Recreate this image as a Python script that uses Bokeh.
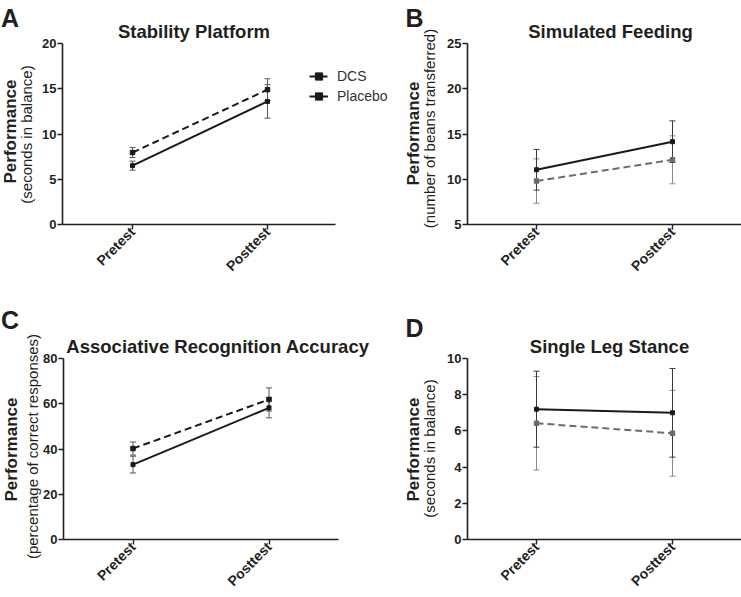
import math
from bokeh.plotting import figure
from bokeh.layouts import column, row
from bokeh.models import (Range1d, FixedTicker, Label, Whisker, TeeHead, LinearAxis,
                          ColumnDataSource, Legend, LegendItem)
from bokeh.embed import file_html
from bokeh.resources import INLINE

# ---------------- data ----------------
time_labels = ["Pretest", "Posttest"]
time_pos = [0, 1]

stab_dcs = [7.95, 14.9]
stab_dcs_se = [0.55, 1.2]
stab_pla = [6.5, 13.6]
stab_pla_se = [0.5, 1.85]

feed_dcs = [9.8, 12.15]
feed_dcs_se = [2.45, 2.65]
feed_pla = [11.05, 14.15]
feed_pla_se = [2.25, 2.3]

arec_dcs = [40.2, 61.9]
arec_dcs_se = [2.9, 5.1]
arec_pla = [33.1, 58.2]
arec_pla_se = [3.7, 4.4]

sls_dcs = [6.42, 5.87]
sls_dcs_se = [2.58, 2.37]
sls_pla = [7.2, 7.0]
sls_pla_se = [2.1, 2.45]

stab_ticks = [0, 5, 10, 15, 20]
feed_ticks = [5, 10, 15, 20, 25]
arec_ticks = [0, 20, 40, 60, 80]
sls_ticks = [0, 2, 4, 6, 8, 10]

# ---------------- style ----------------
FONT = "Liberation Sans"
AX = "#231f20"
BLACK = "#1a1a1a"
GREY = "#6b6b6b"


def rng(p0, v0, p1, v1, total):
    """range whose value v0 sits at pixel p0 and v1 at pixel p1 (pixels from start)."""
    k = (v1 - v0) / (p1 - p0)
    start = v0 - p0 * k
    return start, start + total * k


class Panel:
    def __init__(self, left, top, w, h, x_pre, x_post, ax_x, ax_right, y_lo_px, y_hi_px,
                 ylim, ticks):
        self.left, self.top, self.w, self.h = left, top, w, h
        bottom = top + h
        xr = rng(x_pre - left, 0, x_post - left, 1, w)
        yr = rng(bottom - y_lo_px, ylim[0], bottom - y_hi_px, ylim[1], h)
        p = figure(width=w, height=h, x_range=Range1d(*xr), y_range=Range1d(*yr),
                   output_backend="svg", toolbar_location=None,
                   x_axis_location=None, y_axis_location=None,
                   min_border=0, min_border_left=0, min_border_right=0,
                   min_border_top=0, min_border_bottom=0)
        p.xgrid.visible = False
        p.ygrid.visible = False
        p.outline_line_color = None
        p.background_fill_color = "white"
        p.border_fill_color = "white"
        kx = 1.0 / (x_post - x_pre)
        ax_xval = (ax_x - x_pre) * kx
        ax_xend = (ax_right - x_pre) * kx
        xa = LinearAxis(fixed_location=ylim[0], bounds=(ax_xval, ax_xend),
                        ticker=FixedTicker(ticks=time_pos))
        xa.major_label_overrides = {t: lab for t, lab in zip(time_pos, time_labels)}
        xa.major_label_orientation = math.pi / 4
        xa.major_label_text_font_size = "14px"
        xa.major_label_standoff = 0
        ya = LinearAxis(fixed_location=ax_xval, bounds=(ylim[0], ylim[1]),
                        ticker=FixedTicker(ticks=ticks))
        ya.major_label_text_font_size = "13px"
        ya.major_label_standoff = 1
        for ax in (xa, ya):
            ax.axis_line_width = 1.6
            ax.axis_line_color = AX
            ax.major_tick_line_color = AX
            ax.major_tick_line_width = 1.4
            ax.major_tick_out = 5
            ax.major_tick_in = 0
            ax.minor_tick_line_color = None
            ax.major_label_text_font = FONT
            ax.major_label_text_font_style = "bold"
            ax.major_label_text_color = AX
        p.add_layout(xa, "below")
        p.add_layout(ya, "left")
        self.p = p

    def text(self, sx, sy, s, size, bold=False, angle=0.0, align="left",
             baseline="alphabetic"):
        self.p.add_layout(Label(x=sx - self.left, y=self.top + self.h - sy,
                                x_units="screen", y_units="screen",
                                text=s, angle=angle, text_align=align,
                                text_baseline=baseline, text_font=FONT,
                                text_font_size=size,
                                text_font_style="bold" if bold else "normal",
                                text_color=AX))

    def series(self, vals, ses, color, dash, msize, bar_color):
        p = self.p
        src = ColumnDataSource(dict(x=time_pos, y=vals,
                                    lo=[v - s for v, s in zip(vals, ses)],
                                    hi=[v + s for v, s in zip(vals, ses)]))
        wh = Whisker(source=src, base="x", upper="hi", lower="lo", dimension="height",
                     line_color=bar_color, line_width=1,
                     upper_head=TeeHead(size=6, line_color=bar_color, line_width=1),
                     lower_head=TeeHead(size=6, line_color=bar_color, line_width=1))
        p.add_layout(wh)
        ln = p.line("x", "y", source=src, line_color=color, line_width=2, line_dash=dash)
        sc = p.scatter("x", "y", source=src, marker="square", size=msize,
                       fill_color=color, line_color=color)
        return ln, sc


R90 = math.pi / 2

# ---------------- panel A ----------------
A = Panel(0, 0, 390, 300, 132, 267, 62, 335, 224, 43, (0, 20), stab_ticks)
lA1, sA1 = A.series(stab_dcs, stab_dcs_se, BLACK, "7 4", 4.5, "#555555")
lA2, sA2 = A.series(stab_pla, stab_pla_se, BLACK, "solid", 4, "#555555")
leg = Legend(items=[LegendItem(label="DCS", renderers=[lA1, sA1]),
                    LegendItem(label="Placebo", renderers=[lA2, sA2])],
             location=(309, 300 - 105), orientation="vertical",
             border_line_color=None, background_fill_alpha=0,
             glyph_width=19, glyph_height=18, label_height=18, spacing=2,
             padding=0, margin=0, label_standoff=9,
             label_text_font=FONT, label_text_font_size="14px",
             label_text_color="#333333")
A.p.add_layout(leg)
A.text(0.5, 17, "A", "25px", bold=True)
A.text(193.5, 31, "Stability Platform", "18.5px", bold=True, align="center")
A.text(10, 131, "Performance", "17px", bold=True, angle=R90, align="center")
A.text(26, 134, "(seconds in balance)", "15px", angle=R90, align="center")

# ---------------- panel B ----------------
B = Panel(390, 0, 351, 300, 536, 672, 467, 741, 224, 43, (5, 25), feed_ticks)
B.series(feed_dcs, feed_dcs_se, GREY, "7 4", 4.5, "#8a8a8a")
B.series(feed_pla, feed_pla_se, BLACK, "solid", 4, "#3a3a3a")
B.text(405, 17, "B", "25px", bold=True)
B.text(610, 31, "Simulated Feeding", "18.5px", bold=True, align="center")
B.text(413, 133, "Performance", "17px", bold=True, angle=R90, align="center")
B.text(429, 128, "(number of beans transferred)", "15px", angle=R90, align="center")

# ---------------- panel C ----------------
C = Panel(0, 300, 390, 297, 132.5, 268.5, 63, 338, 539, 358, (0, 80), arec_ticks)
C.series(arec_dcs, arec_dcs_se, BLACK, "7 4", 4.5, "#555555")
C.series(arec_pla, arec_pla_se, BLACK, "solid", 4, "#555555")
C.text(0.5, 319, "C", "25px", bold=True)
C.text(217.5, 346, "Associative Recognition Accuracy", "18.5px", bold=True, align="center")
C.text(11, 449, "Performance", "17px", bold=True, angle=R90, align="center")
C.text(32, 446, "(percentage of correct responses)", "15px", angle=R90, align="center")

# ---------------- panel D ----------------
D = Panel(390, 300, 351, 297, 536, 672, 467, 741, 539, 358, (0, 10), sls_ticks)
D.series(sls_dcs, sls_dcs_se, GREY, "7 4", 4.5, "#8a8a8a")
D.series(sls_pla, sls_pla_se, BLACK, "solid", 4, "#3a3a3a")
D.text(405, 327, "D", "25px", bold=True)
D.text(609, 346, "Single Leg Stance", "18.5px", bold=True, align="center")
D.text(413, 449, "Performance", "17px", bold=True, angle=R90, align="center")
D.text(429, 448, "(seconds in balance)", "15px", angle=R90, align="center")

layout = column(row(A.p, B.p), row(C.p, D.p))
open("out.html", "w").write(file_html(layout, INLINE))
